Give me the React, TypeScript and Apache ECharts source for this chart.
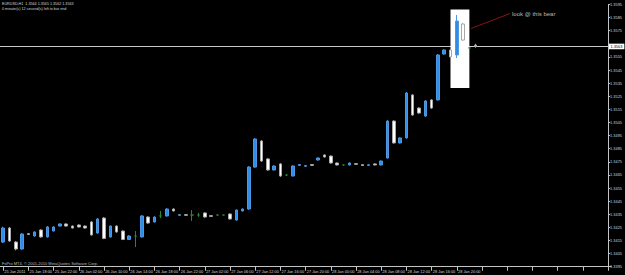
import React, { useEffect, useRef } from "react";
import * as echarts from "echarts";

// ---- data ----
const symbolName = "EURUSD,H1";
const headerOhlc = ["1.3564", "1.3565", "1.3562", "1.3563"];
const timerText = "0 minute(s) 12 second(s) left to bar end";
const copyrightText = "FxPro MT4, \u00a9 2001-2010 MetaQuotes Software Corp.";
const noteText = "look @ this bear";

const timeLabels = [
  "25 Jan 2011", "25 Jan 18:00", "25 Jan 22:00", "26 Jan 02:00", "26 Jan 10:00",
  "26 Jan 14:00", "26 Jan 18:00", "26 Jan 22:00", "27 Jan 02:00", "27 Jan 06:00",
  "27 Jan 12:00", "27 Jan 16:00", "27 Jan 20:00", "28 Jan 00:00", "28 Jan 04:00",
  "28 Jan 08:00", "28 Jan 12:00", "28 Jan 16:00", "28 Jan 20:00",
];

const openPrices = [
  1.34138, 1.34245, 1.34138, 1.34085, 1.34202, 1.34184, 1.3423, 1.34177, 1.34222, 1.3426,
  1.34276, 1.3426, 1.34268, 1.3426, 1.34291, 1.34207, 1.34321, 1.34177, 1.3426, 1.34222,
  1.34158, 1.34184, 1.34177, 1.34329, 1.34291, 1.34337, 1.34337, 1.3439, 1.34342, 1.34347,
  1.34344, 1.34344, 1.3436, 1.34339, 1.34344, 1.34344, 1.34352, 1.34306, 1.34375, 1.3439,
  1.3471, 1.34909, 1.34772, 1.34688, 1.34734, 1.34649, 1.34642, 1.34723, 1.34716, 1.34729,
  1.34764, 1.34802, 1.34794, 1.34741, 1.34726, 1.34726, 1.34736, 1.34728, 1.34723, 1.34734,
  1.34726, 1.34779, 1.35061, 1.34894, 1.34932, 1.3526, 1.3516, 1.35099, 1.35222, 1.35222,
  1.35572, 1.35603, 1.35565, 1.35801, 1.35619, 1.3564,
];
const closePrices = [
  1.34245, 1.34146, 1.34085, 1.34199, 1.34196, 1.34215, 1.34177, 1.34253, 1.34253, 1.34276,
  1.3426, 1.34245, 1.34253, 1.34245, 1.34192, 1.34314, 1.34166, 1.3426, 1.34215, 1.34158,
  1.34184, 1.34184, 1.34337, 1.34283, 1.34329, 1.34337, 1.3439, 1.34375, 1.34347, 1.34342,
  1.34344, 1.34344, 1.34329, 1.34334, 1.34344, 1.34344, 1.34314, 1.34382, 1.3439, 1.3471,
  1.34924, 1.34756, 1.34688, 1.34718, 1.34642, 1.34649, 1.34718, 1.34729, 1.34721, 1.34723,
  1.34779, 1.34787, 1.34741, 1.34726, 1.34726, 1.34741, 1.34731, 1.34722, 1.34727, 1.34726,
  1.34756, 1.35061, 1.34894, 1.34932, 1.35275, 1.35107, 1.35122, 1.35214, 1.3516, 1.35565,
  1.35603, 1.3555, 1.35824, 1.35679, 1.35619, 1.3563,
];
const highPrices = [
  1.34255, 1.34252, 1.34145, 1.34206, 1.34206, 1.3422, 1.34235, 1.3426, 1.34258, 1.3428,
  1.3428, 1.34264, 1.34272, 1.34264, 1.34298, 1.3432, 1.34328, 1.34265, 1.34265, 1.34226,
  1.3419, 1.34222, 1.34343, 1.34334, 1.34333, 1.34375, 1.34396, 1.34394, 1.3435, 1.3435,
  1.34382, 1.3436, 1.34364, 1.34342, 1.34348, 1.34346, 1.34356, 1.34386, 1.34394, 1.34716,
  1.3493, 1.34915, 1.34778, 1.34723, 1.34739, 1.34654, 1.34723, 1.34733, 1.34724, 1.34732,
  1.34783, 1.34806, 1.34798, 1.34744, 1.3473, 1.34744, 1.34739, 1.34731, 1.3473, 1.34737,
  1.3476, 1.35067, 1.35066, 1.34937, 1.35282, 1.35266, 1.35165, 1.3522, 1.35227, 1.35572,
  1.35608, 1.35608, 1.3587, 1.3581, 1.35623, 1.3565,
];
const lowPrices = [
  1.3413, 1.3414, 1.34075, 1.3408, 1.34192, 1.3418, 1.34172, 1.34173, 1.3422, 1.34257,
  1.34257, 1.34242, 1.3425, 1.34242, 1.34188, 1.34202, 1.3416, 1.34172, 1.3421, 1.34153,
  1.34154, 1.341, 1.34173, 1.34278, 1.34288, 1.34321, 1.34333, 1.34372, 1.34339, 1.34339,
  1.34299, 1.3433, 1.34325, 1.34331, 1.3434, 1.34342, 1.3431, 1.34302, 1.34372, 1.34386,
  1.34705, 1.3475, 1.34682, 1.34684, 1.34636, 1.34644, 1.34638, 1.3472, 1.34713, 1.3472,
  1.3476, 1.34784, 1.34737, 1.34723, 1.34722, 1.34723, 1.34728, 1.34719, 1.3472, 1.34723,
  1.34723, 1.34775, 1.34889, 1.3489, 1.34928, 1.35102, 1.35118, 1.35094, 1.35155, 1.35218,
  1.35568, 1.35546, 1.35542, 1.35673, 1.35615, 1.3562,
];

const currentPrice = 1.3563;
const priceMin = 1.3395;
const priceMax = 1.3595;
const priceStepPips = 10;
const slotCount = 97; // bar slots on the time axis (incl. empty shift area)
const barsPerLabel = 4;
// highlighted box object (MT4 rectangle) anchored to bars / prices
const boxFromBar = 71;
const boxToBar = 74;
const boxLow = 1.35313;
const boxHigh = 1.35912;

// ---- styling ----
const BULL = "#2e8de8";
const BEAR = "#ffffff";
const DOJI = "#2a8a2a";
const TXT = "#d6d6d6";
const AXIS = "#c4c4c4";
const FONT = "Liberation Sans";

const toPips = (p: number) => Math.round((p - priceMin) * 100000) / 10;

export default function App() {
  const ref = useRef<HTMLDivElement>(null);

  useEffect(() => {
    document.body.style.margin = "0";
    document.body.style.background = "#000";
    if (!ref.current) return;
    const chart = echarts.init(ref.current, undefined, { renderer: "svg" });

    const categories: string[] = [];
    for (let i = 0; i < slotCount; i++) {
      const k = i / barsPerLabel;
      categories.push(i % barsPerLabel === 0 && k < timeLabels.length ? timeLabels[k] : "");
    }

    const data = openPrices.map((o, i) => {
      const c = closePrices[i];
      const value = [toPips(o), toPips(c), toPips(lowPrices[i]), toPips(highPrices[i])];
      if (o === c) {
        return {
          value,
          itemStyle: { color: DOJI, color0: DOJI, borderColor: DOJI, borderColor0: DOJI },
        };
      }
      return { value };
    });

    const currentPips = toPips(currentPrice);

    chart.setOption({
      animation: false,
      backgroundColor: "#000000",
      textStyle: { fontFamily: FONT },
      grid: { left: -1.465, top: 4.5, width: 614.01, height: 262.2, containLabel: false },
      xAxis: {
        type: "category",
        data: categories,
        boundaryGap: true,
        offset: 1.3,
        axisLine: { show: true, lineStyle: { color: AXIS, width: 1 } },
        axisTick: { show: true, interval: barsPerLabel - 1, alignWithLabel: true, length: 4, lineStyle: { color: AXIS } },
        axisLabel: {
          interval: barsPerLabel - 1,
          color: TXT,
          fontSize: 3.9,
          fontFamily: FONT,
          align: "left",
          margin: 1.5,
          padding: [0, 0, 0, 1.2],
        },
        splitLine: { show: false },
      },
      yAxis: {
        type: "value",
        position: "right",
        offset: -2.55,
        min: 0,
        max: toPips(priceMax),
        interval: priceStepPips,
        scale: false,
        axisLine: { show: true, lineStyle: { color: AXIS, width: 1 } },
        axisTick: { show: true, length: 1.5, lineStyle: { color: AXIS } },
        axisLabel: {
          color: TXT,
          fontSize: 3.9,
          fontFamily: FONT,
          margin: 1.5,
          // the tick label hidden under the current-price box is left blank
          formatter: (v: number) =>
            Math.abs(v - currentPips) < 5 ? "" : (priceMin + v / 10000).toFixed(4),
        },
        splitLine: { show: false },
      },
      series: [
        {
          type: "candlestick",
          data,
          barWidth: 3,
          z: 3,
          itemStyle: {
            color: BULL,
            color0: BEAR,
            borderColor: "#4f98e2",
            borderColor0: "#a8a8a8",
            borderWidth: 1,
          },
          markArea: {
            silent: true,
            z: 1,
            itemStyle: { color: "#ffffff", opacity: 1, borderWidth: 0 },
            data: [[
              { xAxis: boxFromBar, yAxis: toPips(boxHigh) },
              { xAxis: boxToBar, yAxis: toPips(boxLow) },
            ]],
          },
          markLine: {
            silent: true,
            z: 0,
            symbol: ["none", "none"],
            lineStyle: { color: "#c8c8c8", width: 1, type: "solid" },
            label: {
              show: true,
              position: "end",
              distance: -2.2,
              formatter: currentPrice.toFixed(4),
              backgroundColor: "#ffffff",
              color: "#000000",
              fontSize: 3.9,
              fontFamily: FONT,
              padding: [1, 2, 0.6, 1.5],
            },
            data: [{ yAxis: currentPips }],
          },
        },
      ],
      graphic: [
        {
          type: "text",
          left: 2,
          top: 2,
          z: 100,
          style: {
            text: `${symbolName}  ${headerOhlc.join(" ")}\n${timerText}`,
            fill: TXT,
            font: `3.7px "${FONT}"`,
            lineHeight: 4.4,
          },
        },
        {
          type: "text",
          left: 2,
          top: 261.5,
          z: 100,
          style: { text: copyrightText, fill: "#bdbdbd", font: `4px "${FONT}"` },
        },
        {
          type: "line",
          z: 100,
          shape: { x1: 471, y1: 28.5, x2: 510, y2: 13.5 },
          style: { stroke: "#8b1414", lineWidth: 1 },
        },
        {
          type: "text",
          left: 512,
          top: 10.5,
          z: 100,
          style: { text: noteText, fill: "#b8b8b8", font: `6px "${FONT}"` },
        },
      ],
    });

    return () => chart.dispose();
  }, []);

  return (
    <div
      ref={ref}
      style={{ position: "absolute", left: 0, top: 0, width: 625, height: 275, background: "#000" }}
    />
  );
}
